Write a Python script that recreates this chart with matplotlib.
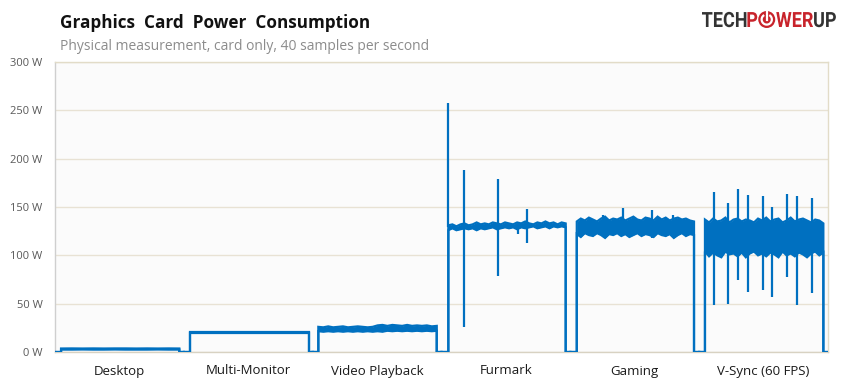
import numpy as np
import matplotlib.pyplot as plt
from matplotlib.textpath import TextPath
from matplotlib.patches import PathPatch, Circle, Arc
from matplotlib.font_manager import FontProperties
from matplotlib.transforms import Affine2D, IdentityTransform

# test windows on the time axis
tests = ['Desktop', 'Multi-Monitor', 'Video Playback', 'Furmark', 'Gaming', 'V-Sync (60 FPS)']
# where the card is under load inside each window (fraction of window)
load_on = [0.047, 0.044, 0.044, 0.053, 0.050, 0.045]
load_off = [0.965, 0.974, 0.963, 0.964, 0.960, 0.964]

# lower / upper edge of the measured trace (W), read across each window
desktop_lo = [2.5, 2.5, 2.6, 2.5, 2.5, 2.6, 2.5, 2.5, 2.5, 2.6, 2.5, 2.5]
desktop_hi = [3.6, 3.7, 3.6, 3.7, 3.6, 3.7, 3.7, 3.6, 3.7, 3.6, 3.7, 3.6]
multi_lo = [19.3, 19.3, 19.3, 19.3, 19.3, 19.3, 19.3, 19.3, 19.3, 19.3]
multi_hi = [20.2, 20.2, 20.2, 20.2, 20.2, 20.2, 20.2, 20.2, 20.2, 20.2]
video_lo = [21.5, 21, 21.5, 21, 21.5, 21, 21.5, 21, 21.5, 21, 21.5, 21, 21.5, 21, 22, 21.5,
            22, 21.5, 22, 21.5, 22, 21.5, 22, 21.5, 22]
video_hi = [26, 25.5, 26.5, 25.5, 26, 26.5, 25.5, 26, 26.5, 26, 25.5, 26, 27.5, 28, 27, 28,
            27.5, 27, 28, 27, 27.5, 27, 27.5, 26.5, 27]
furmark_lo = [126, 128, 126, 127, 128, 127, 128, 126, 128, 127, 128, 129, 127, 128, 129, 128,
              129, 127, 129, 128, 129, 130, 128, 129, 130, 128, 130, 129, 130, 129]
furmark_hi = [131, 132, 130, 132, 133, 131, 132, 134, 132, 133, 132, 134, 133, 132, 134, 133,
              132, 134, 133, 135, 133, 132, 134, 133, 135, 133, 134, 132, 134, 133]
gaming_lo = [122, 119, 123, 121, 120, 123, 121, 118, 122, 121, 123, 120, 122, 119, 121, 123,
             120, 122, 121, 119, 123, 121, 120, 122, 118, 121, 123, 120, 122, 121]
gaming_hi = [135, 138, 136, 139, 137, 135, 138, 140, 136, 138, 137, 139, 136, 138, 140, 137,
             136, 139, 138, 136, 140, 137, 139, 136, 138, 139, 137, 138, 136, 135]
vsync_lo = [104, 99, 103, 100, 98, 104, 101, 102, 99, 103, 98, 102, 104, 100, 102, 99,
            103, 101, 98, 104, 100, 102, 99, 103, 101, 98, 102, 104, 100, 103]
vsync_hi = [137, 134, 138, 135, 136, 139, 134, 137, 138, 135, 137, 136, 134, 138, 136, 139,
            135, 137, 138, 134, 136, 139, 135, 137, 138, 136, 134, 137, 136, 133]

trace_lo = [desktop_lo, multi_lo, video_lo, furmark_lo, gaming_lo, vsync_lo]
trace_hi = [desktop_hi, multi_hi, video_hi, furmark_hi, gaming_hi, vsync_hi]

# short spikes: (position in window, top W, bottom W)
spikes = [
    [(0.10, 4.6, 3), (0.18, 4.6, 3), (0.26, 4.6, 3), (0.34, 4.6, 3), (0.42, 4.6, 3),
     (0.50, 4.6, 3), (0.58, 4.6, 3), (0.66, 4.6, 3), (0.74, 4.6, 3), (0.82, 4.6, 3)],
    [(0.553, 21, 20), (0.730, 21, 20), (0.810, 21, 20)],
    [],
    [(0.053, 258, 129), (0.172, 188, 26), (0.436, 179, 79), (0.592, 132, 122), (0.662, 148, 113)],
    [(0.409, 149, 124), (0.632, 147, 118), (0.25, 142, 122), (0.80, 142, 122)],
    [(0.113, 166, 49), (0.221, 154, 50), (0.301, 169, 75), (0.379, 162, 62), (0.493, 161, 64),
     (0.563, 150, 57), (0.679, 163, 78), (0.757, 161, 49), (0.873, 159, 61)],
]

yticks = [0, 50, 100, 150, 200, 250, 300]
ytick_labels = ['0 W', '50 W', '100 W', '150 W', '200 W', '250 W', '300 W']

blue = '#0070c0'

fig = plt.figure(figsize=(8.41, 3.87), dpi=100)
ax = fig.add_axes([55 / 841, 35 / 387, 773 / 841, 290 / 387])
ax.set_facecolor('#fbfbfb')

for i in range(len(tests)):
    xs = np.linspace(i + load_on[i], i + load_off[i], len(trace_lo[i]))
    x_full = np.concatenate([[i, i + load_on[i]], xs, [i + load_off[i], i + 1]])
    lo = np.concatenate([[0, 0], trace_lo[i], [0, 0]])
    hi = np.concatenate([[0, 0], trace_hi[i], [0, 0]])
    ax.fill_between(xs, trace_lo[i], trace_hi[i], color=blue, lw=0, zorder=3)
    ax.plot(x_full, lo, color=blue, lw=1.6, zorder=3, solid_joinstyle='miter')
    ax.plot(x_full, hi, color=blue, lw=1.6, zorder=3, solid_joinstyle='miter')
    for pos, top, bot in spikes[i]:
        ax.vlines(i + pos, bot, top, color=blue, lw=1.6, zorder=3)

ax.set_xlim(0, len(tests))
ax.set_ylim(0, 300)
ax.set_yticks(yticks)
ax.set_yticklabels(ytick_labels, fontsize=8, color='#595959', family='Open Sans')
ax.set_xticks(np.arange(len(tests)) + 0.5)
ax.set_xticklabels(tests, fontsize=9.5, color='#1a1a1a', family='Open Sans')
ax.tick_params(length=0)
ax.tick_params(axis='y', pad=9)
ax.tick_params(axis='x', pad=9)
ax.grid(axis='y', color='#e8e2d4', lw=1)
ax.set_axisbelow(True)
for side in ['top', 'right']:
    ax.spines[side].set_color('#e2dcc8')
ax.spines['left'].set_color('#cfcfcf')
ax.spines['bottom'].set_color('#d8d2c2')
for s in ax.spines.values():
    s.set_linewidth(1)

fig.text(60 / 841, 1 - 28 / 387, 'Graphics  Card  Power  Consumption', fontsize=12.3,
         fontweight='bold', family='Open Sans', color='#111111', va='baseline')
fig.text(60 / 841, 1 - 50 / 387, 'Physical measurement, card only, 40 samples per second',
         fontsize=10, family='Open Sans', color='#8c8c8c', va='baseline')

# logo, drawn in pixel coordinates
fp = FontProperties(family='Roboto', weight='bold')
squeeze = 0.86
base_y = 387 - 27


def logo_text(s, x0, color):
    tp = TextPath((0, 0), s, size=21, prop=fp)
    ext = tp.get_extents()
    tr = Affine2D().translate(-ext.x0, 0).scale(squeeze, 1).translate(x0, base_y)
    fig.add_artist(PathPatch(tr.transform_path(tp), fc=color, lw=0, transform=IdentityTransform()))
    return x0 + (ext.x1 - ext.x0) * squeeze + 1


red = '#c8232b'
x = logo_text('TECH', 702, '#333333')
x = logo_text('P', x, red)
cx, cy, r = x + 8.5, base_y + 7.5, 8.5
fig.add_artist(Circle((cx, cy), r, fc=red, lw=0, transform=IdentityTransform()))
fig.add_artist(Arc((cx, cy), 2 * r * 0.6, 2 * r * 0.6, theta1=120, theta2=60, color='white',
                   lw=1.6, transform=IdentityTransform()))
fig.add_artist(plt.Line2D([cx, cx], [cy, cy + r * 0.85], color='white', lw=1.6,
                          transform=IdentityTransform()))
x = logo_text('WER', cx + r + 1, red)
logo_text('UP', x, '#333333')

fig.savefig('out.png', dpi=100)
